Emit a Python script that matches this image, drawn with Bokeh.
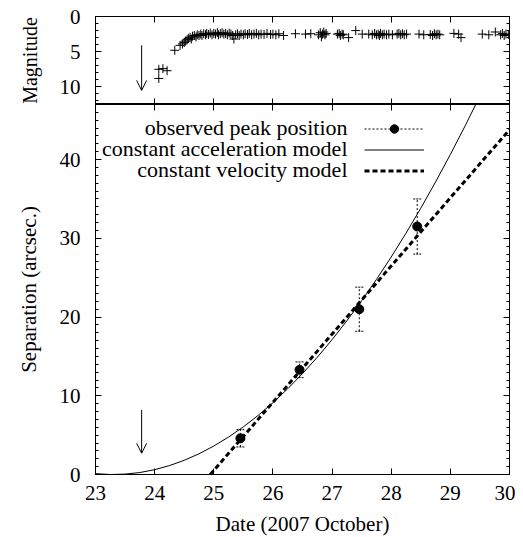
from bokeh.plotting import figure
from bokeh.layouts import column
from bokeh.models import (Range1d, LinearAxis, SingleIntervalTicker, ColumnDataSource,
                          Arrow, OpenHead, Whisker, TeeHead, Legend, LegendItem, Label,
                          CustomLabelingPolicy)
from bokeh.embed import file_html
from bokeh.resources import INLINE

FONT = "Liberation Serif"
FS = "21px"

# ---- light curve (top panel) ----
mag_t = [24.07, 24.07, 24.14, 24.21, 24.34, 24.43, 24.47, 24.50, 24.52, 24.55,
         24.57, 24.60, 24.62, 24.64, 24.67, 24.70, 24.72, 24.75, 24.78, 24.80,
         24.83, 24.86, 24.88, 24.91, 24.94, 24.97, 25.00, 25.03, 25.06, 25.08,
         25.11, 25.14, 25.17, 25.20, 25.23, 25.26, 25.29, 25.32, 25.34, 25.37,
         25.40, 25.43, 25.46, 25.50, 25.53, 25.57, 25.60, 25.64, 25.68, 25.72,
         25.76, 25.80, 25.85, 25.90, 25.96, 26.00, 26.05, 26.10, 26.18, 26.38,
         26.55, 26.64, 26.77, 26.80, 26.82, 26.84, 26.86, 26.88, 26.90, 27.09,
         27.12, 27.14, 27.17, 27.19, 27.28, 27.40, 27.51, 27.62, 27.68, 27.72,
         27.75, 27.78, 27.80, 27.82, 27.85, 27.88, 27.92, 27.96, 28.02, 28.10,
         28.13, 28.16, 28.19, 28.22, 28.26, 28.47, 28.55, 28.66, 28.70, 28.73,
         28.76, 28.79, 28.82, 29.06, 29.14, 29.18, 29.54, 29.65, 29.76, 29.85,
         29.88, 29.91, 29.94, 29.98]
mag_v = [8.8, 7.5, 7.4, 7.7, 4.8, 4.1, 3.9, 3.7, 3.5, 3.3,
         3.1, 2.95, 3.2, 2.8, 2.7, 2.9, 2.6, 2.7, 2.5, 2.7,
         2.45, 2.6, 2.4, 2.55, 2.35, 2.6, 2.4, 2.5, 2.3, 2.6,
         2.45, 2.3, 2.5, 2.4, 2.6, 2.35, 2.5, 2.7, 3.2, 2.6,
         2.45, 2.7, 2.5, 2.6, 2.45, 2.55, 2.4, 2.6, 2.5, 2.4,
         2.6, 2.5, 2.55, 2.4, 2.55, 2.5, 2.6, 2.45, 2.7, 2.45,
         2.5, 2.45, 2.6, 2.3, 2.9, 2.5, 2.2, 2.6, 2.4, 2.5,
         2.4, 2.7, 2.5, 2.6, 3.0, 2.0, 2.5, 2.5, 2.6, 2.4,
         2.6, 2.5, 2.7, 2.4, 2.6, 2.5, 2.6, 2.5, 2.6, 2.5,
         2.4, 2.6, 2.45, 2.6, 2.5, 2.5, 2.6, 2.55, 2.7, 2.45,
         2.6, 2.5, 2.6, 2.4, 2.5, 3.0, 2.5, 2.6, 2.2, 2.6,
         2.4, 2.7, 2.5, 2.55]

# ---- separation (bottom panel) ----
obs_t = [25.45, 26.45, 27.46, 28.44]
obs_sep = [4.6, 13.3, 21.0, 31.5]
obs_err = [1.1, 1.0, 2.8, 3.5]

acc_t = [23.0, 23.25, 23.5, 23.75, 24.0, 24.25, 24.5, 24.75, 25.0, 25.25,
         25.5, 25.75, 26.0, 26.25, 26.5, 26.75, 27.0, 27.25, 27.5, 27.75,
         28.0, 28.25, 28.5, 28.75, 29.0, 29.25, 29.5]
acc_sep = [0.11, 0.0, 0.05, 0.25, 0.61, 1.13, 1.80, 2.63, 3.62, 4.76,
           6.05, 7.51, 9.12, 10.89, 12.81, 14.89, 17.13, 19.52, 22.07, 24.78,
           27.63, 30.65, 33.83, 37.16, 40.65, 44.29, 48.09]

vel_t = [24.94, 30.0]
vel_sep = [0.0, 43.8]

arrow_t = 23.78
arrow_mag = [4.1, 10.5]
arrow_sep = [8.2, 2.7]

x_ticks_interval = 1
legend_labels = ["observed peak position", "constant acceleration model",
                 "constant velocity model"]

HIDE = CustomLabelingPolicy(code="""
const n = indices.size;
for (let i = 0; i < n; i++) indices.unset(i);
return indices;
""")


def style_axis(ax, labels=True, minor=True):
    ax.axis_line_color = "black"
    ax.major_tick_line_color = "black"
    ax.major_tick_in = 6
    ax.major_tick_out = 0
    ax.minor_tick_in = 3
    ax.minor_tick_out = 0
    ax.minor_tick_line_color = "black" if minor else None
    ax.major_label_text_font = FONT
    ax.major_label_text_font_size = FS
    ax.major_label_text_color = "black"
    ax.axis_label_text_font = FONT
    ax.axis_label_text_font_size = FS
    ax.axis_label_text_font_style = "normal"
    ax.axis_label_text_color = "black"
    if not labels:
        ax.major_label_text_font_size = "0px"
        ax.major_label_standoff = 0
        ax.major_label_policy = HIDE
        ax.axis_label = None


xt = SingleIntervalTicker(interval=x_ticks_interval, num_minor_ticks=0)
yt1 = SingleIntervalTicker(interval=5, num_minor_ticks=5)
yt2 = SingleIntervalTicker(interval=10, num_minor_ticks=10)

common = dict(output_backend="svg", toolbar_location=None, frame_width=414,
              min_border_left=95, min_border_right=6)

# ---------------- top panel ----------------
p1 = figure(frame_height=88, x_range=Range1d(23, 30), y_range=Range1d(12.5, 0),
            min_border_top=16, min_border_bottom=0, **common)
p1.xgrid.visible = False
p1.ygrid.visible = False
p1.outline_line_color = "black"
p1.xaxis.ticker = xt
p1.yaxis.ticker = yt1
style_axis(p1.xaxis[0], labels=False, minor=False)
style_axis(p1.yaxis[0])
p1.yaxis.axis_label = "Magnitude"
p1.yaxis.axis_label_text_font_size = "20px"
p1.yaxis.major_label_standoff = 15
p1.yaxis.axis_label_standoff = 16
ax = LinearAxis(ticker=xt); style_axis(ax, labels=False, minor=False); p1.add_layout(ax, "above")
ax = LinearAxis(ticker=yt1); style_axis(ax, labels=False); p1.add_layout(ax, "right")

p1.scatter(mag_t, mag_v, marker="cross", size=9, line_color="black", line_width=1)
p1.add_layout(Arrow(end=OpenHead(size=10, line_width=1, line_color="black"),
                    x_start=arrow_t, y_start=arrow_mag[0], x_end=arrow_t, y_end=arrow_mag[1],
                    line_width=1, line_color="black"))

# ---------------- bottom panel ----------------
p2 = figure(frame_height=370, x_range=p1.x_range, y_range=Range1d(0, 47),
            min_border_top=0, min_border_bottom=0, **common)
p2.xgrid.visible = False
p2.ygrid.visible = False
p2.outline_line_color = "black"
p2.xaxis.ticker = xt
p2.yaxis.ticker = yt2
style_axis(p2.xaxis[0], minor=False)
style_axis(p2.yaxis[0])
p2.xaxis.axis_label = "Date (2007 October)"
p2.xaxis.major_label_standoff = 11
p2.xaxis.axis_label_standoff = 9
p2.yaxis.axis_label = "Separation (arcsec.)"
p2.yaxis.major_label_standoff = 15
p2.yaxis.axis_label_standoff = 16
ax = LinearAxis(ticker=xt); style_axis(ax, labels=False, minor=False); p2.add_layout(ax, "above")
ax = LinearAxis(ticker=yt2); style_axis(ax, labels=False); p2.add_layout(ax, "right")

src = ColumnDataSource(dict(t=obs_t, s=obs_sep,
                            lo=[s - e for s, e in zip(obs_sep, obs_err)],
                            hi=[s + e for s, e in zip(obs_sep, obs_err)]))
r_err = p2.segment(x0="t", y0="lo", x1="t", y1="hi", source=src,
                   line_color="black", line_width=1, line_dash="2 2")
p2.add_layout(Whisker(source=src, base="t", lower="lo", upper="hi", line_alpha=0,
                      upper_head=TeeHead(size=8, line_width=1, line_color="black", line_dash="2 1"),
                      lower_head=TeeHead(size=8, line_width=1, line_color="black", line_dash="2 1")))
r_pt = p2.scatter("t", "s", source=src, marker="circle", size=9, color="black")
r_acc = p2.line(acc_t, acc_sep, line_color="black", line_width=1)
r_vel = p2.line(vel_t, vel_sep, line_color="black", line_width=3, line_dash="5 3")
p2.add_layout(Arrow(end=OpenHead(size=10, line_width=1, line_color="black"),
                    x_start=arrow_t, y_start=arrow_sep[0], x_end=arrow_t, y_end=arrow_sep[1],
                    line_width=1, line_color="black"))

legend = Legend(items=[LegendItem(label=" ", renderers=[r_err, r_pt]),
                       LegendItem(label=" ", renderers=[r_acc]),
                       LegendItem(label=" ", renderers=[r_vel])],
                location=(269, 293), glyph_width=60, glyph_height=21, label_height=21,
                label_width=0, label_standoff=0, padding=0, spacing=0, margin=0,
                border_line_color=None, background_fill_alpha=0, label_text_font_size="8px")
p2.add_layout(legend)

for i, txt in enumerate(legend_labels):
    p2.add_layout(Label(x=252, y=347.5 - 21.2 * i, x_units="screen", y_units="screen",
                        text=txt, text_align="right", text_baseline="middle",
                        text_font=FONT, text_font_size="22px", text_color="black"))

layout = column(p1, p2, spacing=0)
open("out.html", "w").write(file_html(layout, INLINE))
